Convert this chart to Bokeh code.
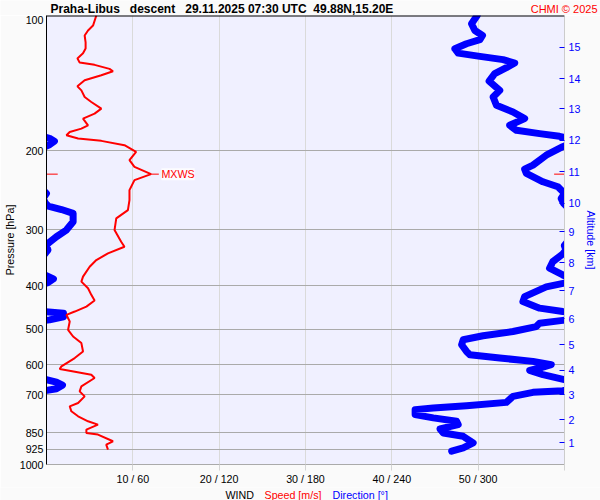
import numpy as np
from bokeh.plotting import figure
from bokeh.layouts import column
from bokeh.models import (Range1d, LinearAxis, FixedTicker, Label, PrintfTickFormatter,
                          CustomJSTickFormatter, Span)
from bokeh.embed import file_html
from bokeh.resources import INLINE

# ---- data ----
pressure_ticks = [100, 200, 300, 400, 500, 600, 700, 850, 925, 1000]
speed_ticks = [10, 20, 30, 40, 50, 60]
speed_tick_labels = ["10 / 60", "20 / 120", "30 / 180", "40 / 240", "50 / 300", ""]
altitude_km = [1, 2, 3, 4, 5, 6, 7, 8, 9, 10, 11, 12, 13, 14, 15]
altitude_pressure = [893.6, 794.3, 698.8, 617.2, 541.2, 473.7, 410.6, 355.1,
                     303.5, 261.7, 222.9, 189.6, 161.5, 138.4, 117.8]

speed_pressure = [100.0, 105.3, 108.0, 110.8, 114.8, 118.4, 121.4, 124.6, 127.2, 128.8,
                  131.5, 133.1, 135.9, 139.4, 143.8, 146.8, 151.9, 155.8, 161.2, 165.4,
                  169.7, 175.6, 178.6, 181.7, 184.8, 187.9, 190.2, 194.5, 201.3, 210.0,
                  217.3, 225.6, 232.6, 244.8, 257.7, 271.3, 283.1, 300.5, 319.0, 327.3,
                  338.6, 350.4, 362.6, 381.6, 391.5, 404.9, 419.0, 431.4, 444.9, 456.4,
                  464.2, 480.4, 501.2, 518.7, 536.5, 560.0, 579.3, 604.7, 612.8, 617.2,
                  631.0, 641.7, 669.9, 687.3, 705.1, 729.4, 742.0, 761.3, 781.0, 801.3,
                  815.0, 836.2, 850.6, 857.9, 887.7, 903.0, 926.4]
speed_ms = [5.77, 5.39, 4.81, 4.42, 4.53, 4.53, 4.23, 3.58, 3.84, 5.57,
            7.30, 7.70, 6.35, 4.42, 3.58, 4.04, 4.42, 5.19, 6.35, 5.57,
            4.23, 4.81, 4.04, 2.69, 2.31, 3.66, 6.35, 9.03, 10.38, 9.61,
            10.19, 12.11, 10.19, 9.61, 9.61, 9.43, 8.08, 7.88, 8.65, 9.03,
            7.12, 5.77, 5.00, 4.23, 4.04, 4.81, 5.19, 5.57, 4.62, 3.27,
            2.31, 2.69, 2.50, 3.08, 4.04, 4.23, 3.27, 1.73, 1.53, 2.50,
            5.19, 5.57, 4.04, 3.84, 4.42, 3.66, 2.69, 2.88, 3.66, 4.81,
            5.96, 4.62, 4.62, 5.96, 7.70, 6.92, 7.12]

dir_pressure = [100.0, 104.3, 108.0, 110.8, 113.2, 115.6, 118.6, 121.3, 123.3, 125.4,
                127.6, 130.7, 134.8, 140.0, 146.8, 151.9, 158.5, 164.0, 169.7, 175.6,
                180.2, 183.3, 185.8, 187.7, 190.5, 194.0, 196.0, 204.7, 215.4, 219.9,
                224.8, 234.6, 240.7, 249.0, 255.5, 262.0, 265.7, 270.5, 275.8, 287.9,
                300.5, 311.0, 321.7, 325.3, 332.9, 339.7, 353.3, 365.5, 378.3, 386.1,
                394.1, 402.2, 422.7, 433.6, 448.5, 456.4, 460.6, 469.0, 476.3, 477.5,
                484.4, 492.9, 505.6, 516.8, 527.5, 541.2, 560.0, 569.6, 579.3, 589.3,
                599.5, 609.7, 617.2, 631.0, 647.3, 655.6, 665.8, 677.9, 684.9, 690.8,
                705.1, 727.2, 739.5, 748.2, 754.7, 774.2, 787.4, 801.3, 815.0, 833.2,
                850.6, 865.4, 895.1, 918.4, 934.2]
dir_deg = [299.3, 295.4, 297.7, 303.0, 301.2, 291.9, 283.8, 286.1, 301.2, 317.3,
           325.4, 319.6, 311.5, 307.6, 315.0, 310.4, 312.7, 324.2, 332.3, 321.9,
           326.6, 342.7, 356.5, 2.1, 5.5, 2.1, 358.8, 347.3, 338.1, 332.3,
           333.5, 345.0, 355.4, 0.0, 357.7, 359.3, 1.2, 10.4, 18.5, 18.5,
           13.8, 6.9, 1.2, 359.9, 1.0, 358.8, 351.9, 349.6, 358.8, 4.8,
           0.7, 347.3, 332.3, 331.1, 342.7, 358.8, 11.8, 11.8, 2.1, 358.8,
           342.7, 340.4, 324.2, 303.4, 289.6, 288.5, 291.9, 294.2, 315.0, 338.1,
           350.8, 342.7, 335.8, 345.0, 359.9, 6.9, 11.1, 6.9, 358.8, 338.1,
           324.2, 319.6, 291.9, 268.8, 256.2, 256.2, 268.8, 285.0, 286.1, 273.5,
           275.8, 289.6, 296.5, 289.6, 281.6]

mxws_pressure = 225.6
mxws_speed = 12.11

NB = "\u00a0"
title_text = f"Praha-Libus{NB}{NB} descent{NB}{NB} 29.11.2025 07:30 UTC{NB} 49.88N,15.20E"
copyright_text = "CHMI © 2025"
footer_texts = ["WIND", "Speed [m/s]", "Direction [°]"]

FONT = "Liberation Sans"
FS = "10.7px"
RED = "#ff0000"
BLUE = "#0000ff"
OUTER = "#fafafa"
W = 600
TOP_H = 15
MAIN_H = 472
BOT_H = 13


def strip(height):
    f = figure(width=W, height=height, x_range=Range1d(0, W), y_range=Range1d(0, height),
               output_backend="svg", toolbar_location=None,
               x_axis_location=None, y_axis_location=None,
               min_border=0, outline_line_color=None, frame_align=False,
               background_fill_color=OUTER, border_fill_color=OUTER)
    f.grid.visible = False
    return f


# ---- top strip: title ----
top = strip(TOP_H)
top.add_layout(Label(x=50, y=6.5, text=title_text, text_font=FONT, text_font_size="12px",
                     text_font_style="bold", text_color="black", text_baseline="middle"))
top.add_layout(Label(x=597, y=7, text=copyright_text, text_font=FONT, text_font_size="11px",
                     text_color=RED, text_baseline="middle", text_align="right"))

# ---- main plot ----
p = figure(width=W, height=MAIN_H, y_axis_type="log",
           x_range=Range1d(0, 60), y_range=Range1d(1000, 100),
           output_backend="svg", toolbar_location=None, frame_align=False,
           min_border_left=45, min_border_right=35, min_border_top=0, min_border_bottom=0,
           background_fill_color="#f0f0ff", border_fill_color=OUTER,
           outline_line_color=None)

ya = p.yaxis[0]
ya.ticker = FixedTicker(ticks=pressure_ticks, minor_ticks=[])
ya.formatter = PrintfTickFormatter(format="%d")
ya.major_tick_out = 0
ya.major_tick_in = 0
ya.minor_tick_out = 0
ya.minor_tick_in = 0
ya.axis_line_color = "black"
ya.major_label_standoff = 3
ya.major_label_text_font = FONT
ya.major_label_text_font_size = FS
ya.major_label_text_color = "black"
ya.axis_label = "Pressure [hPa]"
ya.axis_label_text_font = FONT
ya.axis_label_text_font_size = FS
ya.axis_label_text_font_style = "normal"
ya.axis_label_text_color = "black"
ya.axis_label_standoff = 1

xa = p.xaxis[0]
xa.ticker = FixedTicker(ticks=speed_ticks, minor_ticks=[])
xa.major_label_overrides = {t: lab for t, lab in zip(speed_ticks, speed_tick_labels)}
xa.major_tick_out = 6
xa.major_tick_in = 0
xa.minor_tick_out = 0
xa.minor_tick_in = 0
xa.major_tick_line_color = "#d4d4d4"
xa.axis_line_color = "#aaaaaa"
xa.major_label_standoff = 2
xa.major_label_text_font = FONT
xa.major_label_text_font_size = FS
xa.major_label_text_color = "black"

# black top border of the diagram
p.add_layout(Span(location=100, dimension="width", line_color="black", line_width=2))

alt_formatter = CustomJSTickFormatter(
    args=dict(tp=altitude_pressure, lab=[str(k) for k in altitude_km]),
    code="const i = tp.findIndex((t) => Math.abs(t - tick) < 1e-6); return i >= 0 ? lab[i] : '';")
ra = LinearAxis(ticker=FixedTicker(ticks=altitude_pressure, minor_ticks=[]),
                formatter=alt_formatter,
                major_tick_in=5, major_tick_out=0, minor_tick_in=0, minor_tick_out=0,
                major_tick_line_color=BLUE,
                axis_line_color="#cccccc", major_label_standoff=4,
                major_label_text_font=FONT, major_label_text_font_size=FS,
                major_label_text_color=BLUE,
                axis_label="Altitude [km]", axis_label_text_font=FONT,
                axis_label_text_font_size=FS, axis_label_text_font_style="normal",
                axis_label_text_color=BLUE, axis_label_standoff=2)
p.add_layout(ra, "right")

p.ygrid.ticker = FixedTicker(ticks=pressure_ticks, minor_ticks=[])
p.ygrid.grid_line_color = "#aaaaaa"
p.xgrid.ticker = FixedTicker(ticks=speed_ticks, minor_ticks=[])
p.xgrid.grid_line_color = "#dadada"

# wind direction, drawn on the speed scale (60 m/s <-> 360 deg)
dir_unwrapped = np.unwrap(np.array(dir_deg), period=360.0)
for shift in (0.0, -360.0, 360.0):
    p.line(x=(dir_unwrapped + shift) / 6.0, y=dir_pressure, line_color=BLUE,
           line_width=7, line_join="round", line_cap="round")

# wind speed
p.line(x=speed_ms, y=speed_pressure, line_color=RED, line_width=2)

# MXWS marker
p.line(x=[mxws_speed, mxws_speed + 0.9], y=[mxws_pressure, mxws_pressure], line_color=RED, line_width=1)
p.line(x=[0, 1.3], y=[mxws_pressure, mxws_pressure], line_color=RED, line_width=1)
p.line(x=[58.8, 60], y=[mxws_pressure, mxws_pressure], line_color=RED, line_width=1)
p.add_layout(Label(x=mxws_speed + 1.2, y=mxws_pressure, text="MXWS", text_color=RED,
                   text_font=FONT, text_font_size=FS, text_baseline="middle",
                   background_fill_color="white", background_fill_alpha=0.8))

# ---- bottom strip: footer ----
bottom = strip(BOT_H)
for xpos, txt, col in zip([225, 264, 332], footer_texts, ["black", RED, BLUE]):
    bottom.add_layout(Label(x=xpos, y=5.5, text=txt, text_font=FONT, text_font_size=FS,
                            text_color=col, text_baseline="middle"))

page = column(top, p, bottom, spacing=0)

open("out.html", "w").write(file_html(page, INLINE))
